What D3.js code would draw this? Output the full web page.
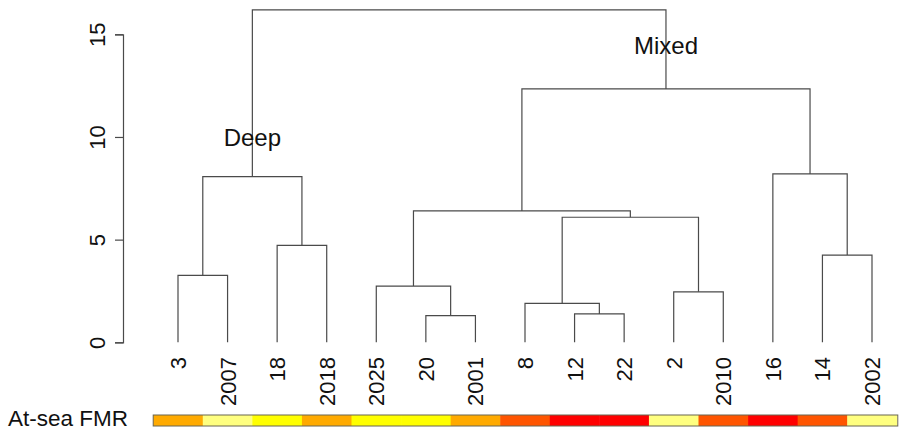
<!DOCTYPE html>
<html>
<head>
<meta charset="utf-8">
<script src="https://cdn.jsdelivr.net/npm/d3@7"></script>
<style>
  html, body { margin: 0; padding: 0; background: #fff; }
  svg { display: block; font-family: "Liberation Sans", Arial, Helvetica, sans-serif; }
</style>
</head>
<body>
<svg id="chart" width="901" height="432"></svg>
<script>
// ---- data ----
const leaves = ["3","2007","18","2018","2025","20","2001","8","12","22","2","2010","16","14","2002"];
// FMR class per leaf (1 = highest/red ... 5 = lowest/light yellow)
const fmrClass = [3, 5, 4, 3, 4, 4, 3, 2, 1, 1, 5, 2, 1, 2, 5];
const fmrColors = ["#FF0000", "#FF5500", "#FFAA00", "#FFFF00", "#FFFF80"];
// hclust-style merges: negative = leaf (1-based), positive = earlier merge (1-based)
const mergeLeft  = [-6, -9, -8, -11, -5, -1, -14, -3, 3, 5, 6, -13, 10, 11];
const mergeRight = [-7, -10, 2, -12, 1, -2, -15, -4, 4, 9, 8, 7, 12, 13];
const mergeHeight = [1.30, 1.38, 1.90, 2.46, 2.74, 3.26, 4.25, 4.72, 6.09, 6.40, 8.07, 8.20, 12.34, 16.19];
const yTicks = [0, 5, 10, 15];
const groupLabels = ["Deep", "Mixed"];
const groupLabelHeights = [10, 14.48];
const barLabel = "At-sea FMR";

// ---- scales ----
const svg = d3.select("#chart");
const x = d3.scalePoint().domain(leaves).range([178, 872]);
const y = d3.scaleLinear().domain([0, 15]).range([342.3, 34.3]);
const step = x.step();

// build tree from merges
const nodes = [];
function ref(i) {
  if (i < 0) { const name = leaves[-i - 1]; return { name, x: x(name), h: 0, leaf: true }; }
  return nodes[i - 1];
}
mergeLeft.forEach((l, k) => {
  const a = ref(l), b = ref(mergeRight[k]);
  nodes.push({ children: [a, b], x: (a.x + b.x) / 2, h: mergeHeight[k] });
});
const root = d3.hierarchy(nodes[nodes.length - 1]);

// ---- dendrogram links ----
const lineColor = "#4a4a4a";
const g = svg.append("g").attr("fill", "none").attr("stroke", lineColor).attr("stroke-width", 1.2);
root.descendants().forEach(n => {
  if (!n.children) return;
  const p = n.data;
  const [a, b] = p.children;
  g.append("path").attr("d",
    `M${a.x},${y(a.h)}V${y(p.h)}H${b.x}V${y(b.h)}`);
});

// ---- y axis ----
const axis = d3.axisLeft(y).tickValues(yTicks).tickSizeOuter(0).tickSize(8).tickFormat(d3.format("d"));
const ag = svg.append("g").attr("transform", "translate(123,0)").call(axis);
ag.select(".domain").attr("stroke", lineColor).attr("stroke-width", 1.2);
ag.selectAll(".tick line").attr("stroke", lineColor).attr("stroke-width", 1.2);
ag.selectAll(".tick text")
  .attr("font-size", 22)
  .attr("fill", "#111")
  .attr("x", null).attr("dy", null)
  .attr("text-anchor", "middle")
  .attr("transform", "translate(-18,0) rotate(-90)");

// ---- leaf labels ----
svg.append("g").selectAll("text").data(leaves).join("text")
  .attr("transform", d => `translate(${x(d) + 8},357) rotate(-90)`)
  .attr("text-anchor", "end")
  .attr("font-size", 22)
  .attr("fill", "#111")
  .text(d => d);

// ---- group labels ----
const groupX = [root.data.children[0].x, root.data.children[1].x];
svg.append("g").selectAll("text").data(groupLabels).join("text")
  .attr("x", (d, i) => groupX[i])
  .attr("y", (d, i) => y(groupLabelHeights[i]))
  .attr("dy", "0.36em")
  .attr("text-anchor", "middle")
  .attr("font-size", 24)
  .attr("fill", "#111")
  .text(d => d);

// ---- colour bar ----
const barTop = 415, barH = 11;
svg.append("g").selectAll("rect").data(leaves).join("rect")
  .attr("x", d => x(d) - step / 2)
  .attr("y", barTop)
  .attr("width", step + 0.5)
  .attr("height", barH)
  .attr("fill", (d, i) => fmrColors[fmrClass[i] - 1]);
svg.append("rect")
  .attr("x", x(leaves[0]) - step / 2).attr("y", barTop)
  .attr("width", step * leaves.length + 1).attr("height", barH)
  .attr("fill", "none").attr("stroke", "#6b6650").attr("stroke-width", 1);
svg.append("text")
  .attr("x", 8).attr("y", 426)
  .attr("font-size", 22.5)
  .attr("fill", "#111")
  .text(barLabel);
</script>
</body>
</html>
